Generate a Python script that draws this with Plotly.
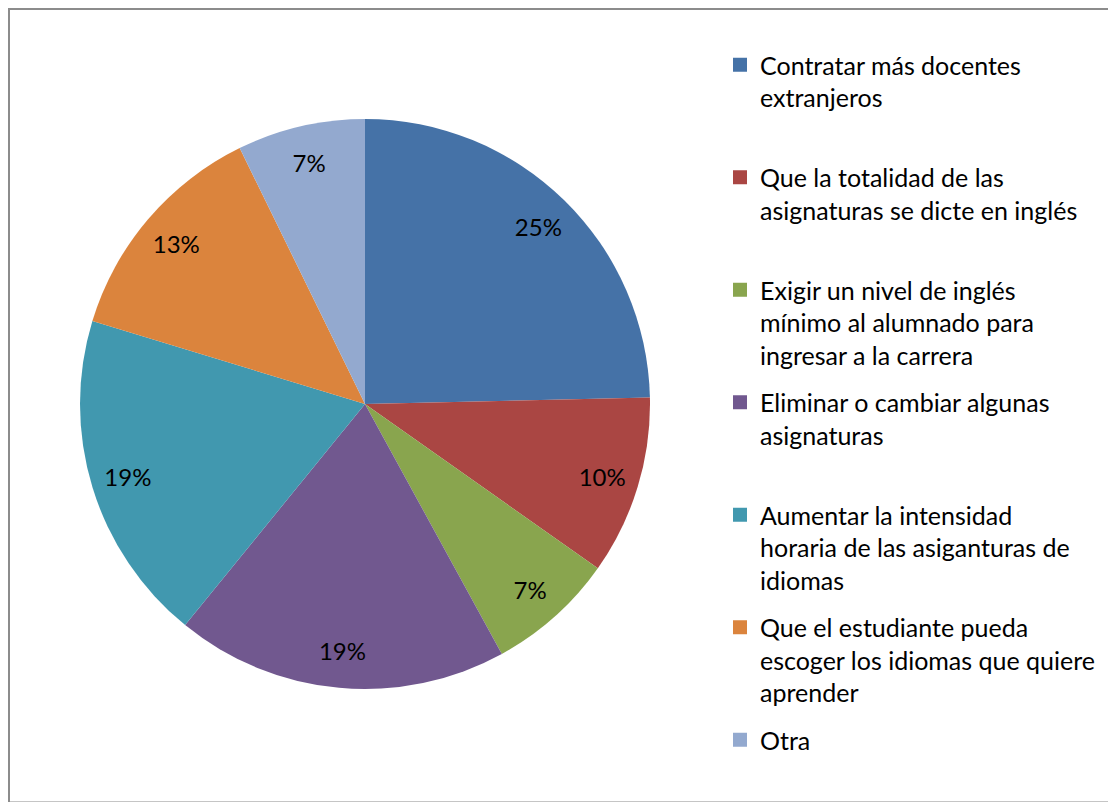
import plotly.graph_objects as go

# The page body adds an 8px margin; the figure fills the rest of the window.
OFF = 8
FW, FH = 1116 - OFF, 802 - OFF

categories = [
    "Contratar más docentes<br>extranjeros",
    "Que la totalidad de las<br>asignaturas se dicte en inglés",
    "Exigir un nivel de inglés<br>mínimo al alumnado para<br>ingresar a la carrera",
    "Eliminar o cambiar algunas<br>asignaturas",
    "Aumentar la intensidad<br>horaria de las asiganturas de<br>idiomas",
    "Que el estudiante pueda<br>escoger los idiomas que quiere<br>aprender",
    "Otra",
]
counts = [17, 7, 5, 13, 13, 9, 5]
colors = ["#4572A7", "#AA4643", "#89A54E", "#71588F", "#4198AF", "#DB843D", "#93A9CF"]

FONT = "Lato"
FS_LEG = 25
FS_PIE = 24


def px(x):
    return (x - OFF) / FW


def py(y):
    return 1 - (y - OFF) / FH


# pie placement (window pixels)
cx, cy, R = 365, 404, 285
dom = dict(x=[px(cx - R), px(cx + R)], y=[py(cy + R), py(cy - R)])

fig = go.Figure()
# the slices
fig.add_trace(go.Pie(
    labels=categories, values=counts, sort=False, direction="clockwise", rotation=0,
    marker=dict(colors=colors, line=dict(width=0)),
    textinfo="none", domain=dom, showlegend=False, hoverinfo="label+percent",
))
# percentage labels, placed by the library in an outer ring (like Excel's label position)
fig.add_trace(go.Pie(
    labels=categories, values=counts, sort=False, direction="clockwise", rotation=0,
    hole=0.74,
    marker=dict(colors=["rgba(0,0,0,0)"] * len(counts), line=dict(width=0)),
    texttemplate="%{percent:.0%}", textposition="inside",
    insidetextorientation="horizontal",
    textfont=dict(family=FONT, size=FS_PIE, color="black"),
    domain=dom, showlegend=False, hoverinfo="skip",
))

# legend entries (Excel spaces entries evenly, so pad each to 3 lines)
n_lines = 3
for i, (c, col) in enumerate(zip(categories, colors)):
    k = c.count("<br>") + 1
    lab = c if i == len(categories) - 1 else c + "<br> " * max(0, n_lines - k)
    fig.add_trace(go.Scatter(
        x=[None], y=[None], mode="markers", name=lab,
        marker=dict(symbol="square", size=14, color=col),
        legendgroup=f"g{i}", showlegend=True, hoverinfo="skip",
    ))

fig.update_layout(
    width=FW, height=FH,
    margin=dict(l=0, r=0, t=0, b=0),
    paper_bgcolor="white", plot_bgcolor="white",
    xaxis=dict(visible=False), yaxis=dict(visible=False),
    showlegend=True,
    legend=dict(
        x=px(720), y=py(42), xanchor="left", yanchor="top",
        font=dict(family=FONT, size=FS_LEG, color="black"),
        valign="top", bgcolor="rgba(0,0,0,0)",
        traceorder="grouped", tracegroupgap=12,
    ),
    shapes=[dict(
        type="rect", xref="paper", yref="paper",
        x0=px(9), x1=px(1125), y0=py(802.5), y1=py(9),
        line=dict(color="#8C8C8C", width=2), fillcolor="rgba(0,0,0,0)", layer="below",
    )],
)

fig.write_html("out.html")
